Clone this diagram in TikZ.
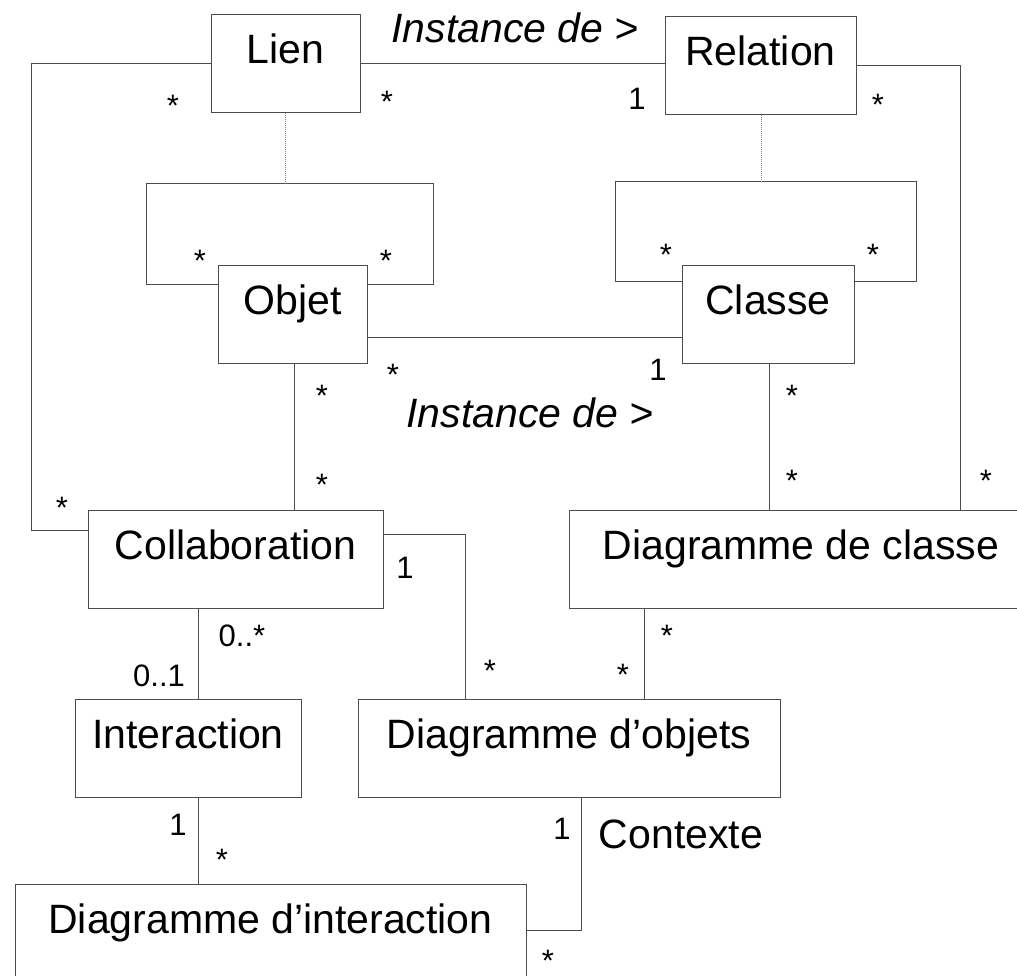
\documentclass[tikz,border=0pt]{standalone}
\usepackage{fontspec}
\setmainfont{Liberation Sans}
\usepackage{xcolor}
\definecolor{lgray}{gray}{0.3}

\begin{document}
\begin{tikzpicture}[x=1pt,y=-1pt,
  umlbox/.style={draw=lgray,fill=white,line width=1pt,inner sep=0pt,minimum height=98pt,text height=30pt,text depth=30pt,font=\fontsize{41}{48}\selectfont},
  mult/.style={anchor=base,inner sep=0pt,font=\fontsize{31}{36}\selectfont},
  big/.style={anchor=base,inner sep=0pt,font=\fontsize{41}{48}\selectfont},
  assoc/.style={draw=lgray,line width=1pt},
  aclass/.style={draw=gray,line width=1pt,dash pattern=on 1pt off 1pt}]

\clip (0,0) rectangle (1017,976);

% the classes
\def\boxes{lien/285.5/64/149/Lien,
           relation/760.5/66/191/Relation,
           objet/292.5/314.5/149/Objet,
           classe/768/314.5/172/Classe,
           collab/235.5/559/295/Collaboration,
           ddc/801/559/464/Diagramme de classe,
           inter/188/748/226/Interaction,
           ddo/569/748/422/Diagramme d’objets,
           ddi/270.5/933/511/Diagramme d’interaction}
\foreach \nm/\x/\y/\w/\txt in \boxes
  \node[umlbox,minimum width=\w pt] (\nm) at (\x,\y) {\txt};

% associations
\draw[assoc] (lien.east) -- (lien.east -| relation.west);
\draw[assoc] (lien.west) -| (31,530) -- (collab.west |- 0,530);
\draw[assoc] (relation.east) -| (ddc.north -| 960,0);
\draw[assoc] (objet.west |- 0,285) -| (146,184) -| (433,285) -- (objet.east |- 0,285);
\draw[assoc] (classe.west |- 0,282) -| (615,182) -| (916,282) -- (classe.east |- 0,282);
\draw[assoc] (objet.east |- 0,337) -- (classe.west |- 0,337);
\draw[assoc] (objet.south -| 294,0) -- (collab.north -| 294,0);
\draw[assoc] (classe.south -| 769,0) -- (ddc.north -| 769,0);
\draw[assoc] (collab.east |- 0,534) -| (ddo.north -| 465,0);
\draw[assoc] (collab.south -| 198,0) -- (inter.north -| 198,0);
\draw[assoc] (ddc.south -| 644,0) -- (ddo.north -| 644,0);
\draw[assoc] (inter.south -| 198,0) -- (ddi.north -| 198,0);
\draw[assoc] (ddo.south -| 581,0) |- (ddi.east |- 0,930);

% association classes
\draw[aclass] (lien.south) -- (lien.south |- 0,184);
\draw[aclass] (relation.south -| 761,0) -- (761,182);

% multiplicities
\def\mults{173/117/*, 387/113/*, 637/110/1, 878/116/*,
           200/272/*, 386/272/*, 666/266/*, 873/266/*,
           393/385/*, 658/380/1, 322/406/*, 322/495/*,
           792/406/*, 792/491/*, 986/491/*, 62/518/*,
           405/578/1, 242/646/0..*, 159/686/0..1, 490/681/*,
           667/646/*, 623/685/*, 178/835/1, 222/870/*,
           562/839/1, 548/971/*}
\foreach \x/\y/\m [count=\ni] in \mults
  \node[mult] (m\ni) at (\x,\y) {\m};

% role names
\node[big,font=\fontsize{41}{48}\selectfont\itshape] (inst1) at (515,43) {Instance de >};
\node[big,font=\fontsize{41}{48}\selectfont\itshape] (inst2) at (530,427) {Instance de >};
\node[big] (ctx) at (681,848) {Contexte};

\end{tikzpicture}
\end{document}
